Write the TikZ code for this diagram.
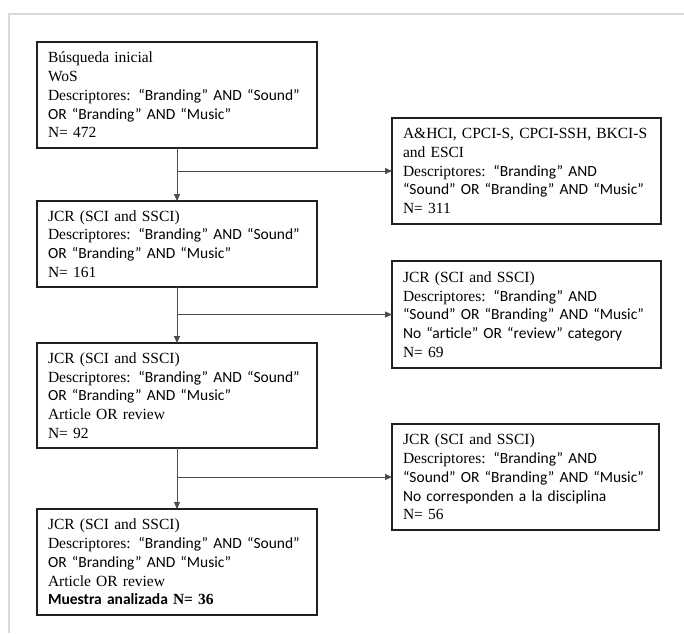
\documentclass[tikz,border=0pt]{standalone}
\usepackage{fontspec}
\setmainfont{Liberation Serif}
\newfontfamily\calib{Carlito}
\usetikzlibrary{arrows.meta}
\newcommand{\boxfont}{\fontsize{15.5}{18.7}\selectfont}
\newcommand{\Q}[1]{{\calib #1}}
\tikzset{
  fbox/.style={draw=black!88, line width=1.7pt, anchor=north west, inner xsep=11pt,
    inner ysep=0pt, align=left, font=\boxfont, outer sep=0pt},
  conn/.style={draw=black!70, line width=1pt, -{Triangle[length=7pt,width=6pt]}},
  frameline/.style={draw=black!15, line width=2pt}
}
\begin{document}
\begin{tikzpicture}[x=1pt,y=-1pt]
\useasboundingbox (0,0) rectangle (684,633);
\draw[frameline] (684,14) -- (9,14) -- (9,633);

\node[fbox, text width=258pt, minimum height=106pt] (b1) at (37,42)
  {Búsqueda inicial\\ WoS\\ Descriptores: \Q{“Branding” AND “Sound”}\\ \Q{OR “Branding” AND “Music”}\\ N= 472};
\node[fbox, text width=247pt, minimum height=106pt] (b2) at (392,118)
  {A\&HCI, CPCI-S, CPCI-SSH, BKCI-S\\ and ESCI\\ Descriptores: \Q{“Branding” AND}\\ \Q{“Sound” OR “Branding” AND “Music”}\\ N= 311};
\node[fbox, text width=258pt, minimum height=86pt] (b3) at (37,201)
  {JCR (SCI and SSCI)\\ Descriptores: \Q{“Branding” AND “Sound”}\\ \Q{OR “Branding” AND “Music”}\\ N= 161};
\node[fbox, text width=247pt, minimum height=107pt] (b4) at (392,261)
  {JCR (SCI and SSCI)\\ Descriptores: \Q{“Branding” AND}\\ \Q{“Sound” OR “Branding” AND “Music”}\\ \Q{No “article” OR “review” category}\\ N= 69};
\node[fbox, text width=258pt, minimum height=105pt] (b5) at (37,343)
  {JCR (SCI and SSCI)\\ Descriptores: \Q{“Branding” AND “Sound”}\\ \Q{OR “Branding” AND “Music”}\\ Article OR review\\ N= 92};
\node[fbox, text width=245pt, minimum height=106pt] (b6) at (392,424)
  {JCR (SCI and SSCI)\\ Descriptores: \Q{“Branding” AND}\\ \Q{“Sound” OR “Branding” AND “Music”}\\ \Q{No corresponden a la disciplina}\\ N= 56};
\node[fbox, text width=258pt, minimum height=106pt] (b7) at (37,509)
  {JCR (SCI and SSCI)\\ Descriptores: \Q{“Branding” AND “Sound”}\\ \Q{OR “Branding” AND “Music”}\\ Article OR review\\ {\bfseries\calib Muestra analizada} {\bfseries N= 36}};

\draw[conn] (b1.south) -- (b3.north);
\draw[conn] (b1.south |- b2.west) -- (b2.west);
\draw[conn] (b3.south) -- (b5.north);
\draw[conn] (b3.south |- b4.west) -- (b4.west);
\draw[conn] (b5.south) -- (b7.north);
\draw[conn] (b5.south |- b6.west) -- (b6.west);
\end{tikzpicture}
\end{document}
